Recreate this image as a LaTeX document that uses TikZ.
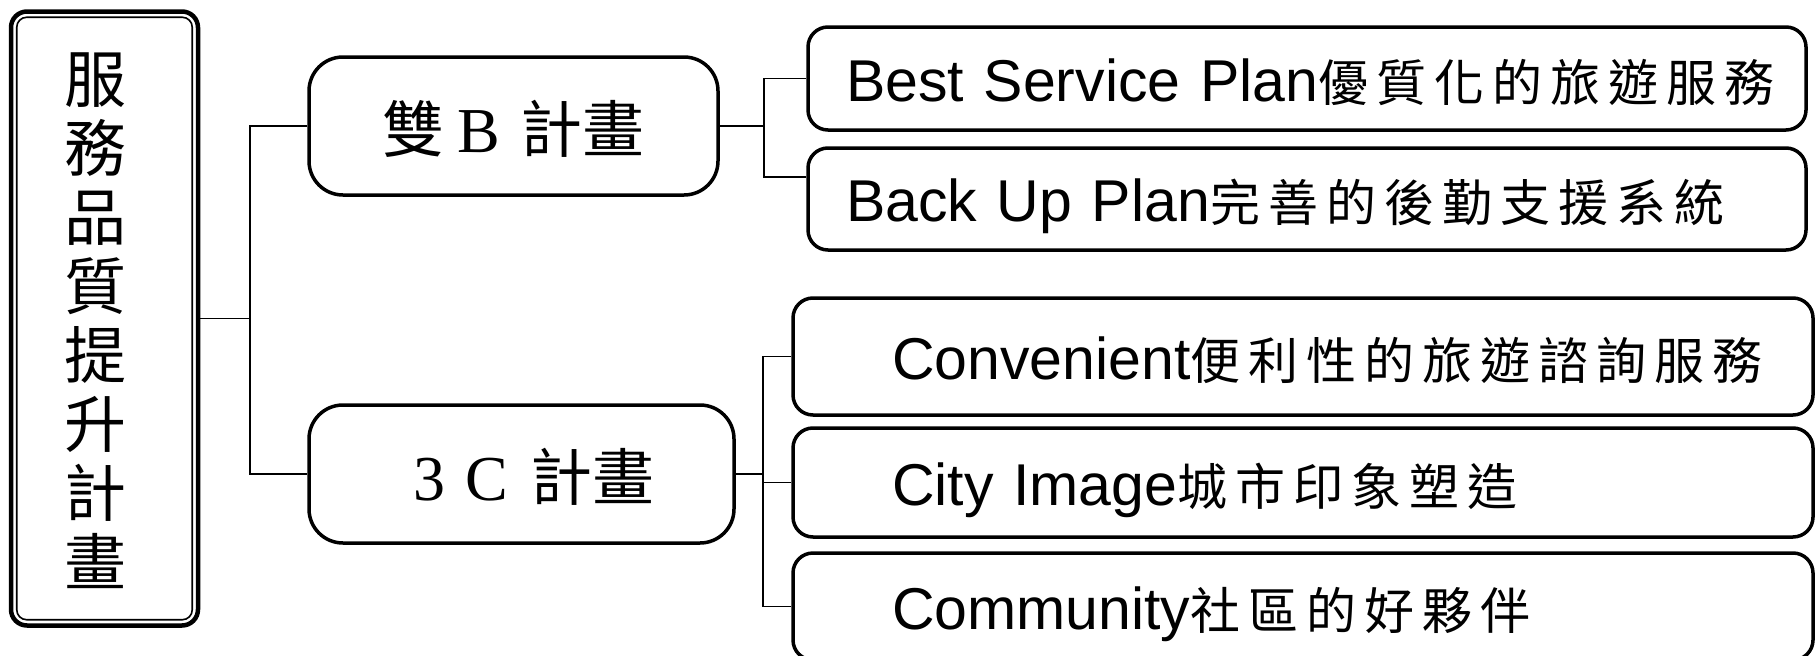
\documentclass[tikz,border=0pt]{standalone}
\usepackage{fontspec}
\setmainfont{Liberation Sans}
\newfontfamily\cjk{Noto Sans CJK TC}
\newfontfamily\cjkl[LetterSpace=16]{Noto Sans CJK TC}
\newfontfamily\romanl{Liberation Serif}
\newcommand{\zh}[1]{{\cjkl\fontsize{50}{60}\selectfont #1}}
\newcommand{\bigzh}[1]{{\cjk\fontsize{62}{70}\selectfont #1}}
\newcommand{\bigrm}[1]{{\romanl\fontsize{64}{70}\selectfont #1}}
\usetikzlibrary{calc}

\begin{document}
\begin{tikzpicture}[x=1pt, y=-1pt,
    outline/.style={draw, line width=3.5pt},
    planbox/.style={outline, rounded corners=34pt, minimum width=#1, minimum height=138pt,
        inner sep=0pt, text height=54pt, text depth=2pt},
    leafbox/.style={outline, rounded corners=20pt, minimum height=#1, inner ysep=0pt,
        align=left, text height=47pt, text depth=2pt, font=\fontsize{59}{70}\selectfont},
    uprow/.style={leafbox=#1, inner xsep=38pt, text width=922pt},
    downrow/.style={leafbox=#1, inner xsep=99pt, text width=822pt},
    wire/.style={line width=1.8pt}]

    \useasboundingbox (0,0) rectangle (1816,656);
    \fill[white] (0,0) rectangle (1816,656);

    % Root
    \node[outline, line width=4.5pt, rounded corners=16pt, minimum width=187pt, minimum height=614pt] (root) at (104.5,318.5) {};
    \draw[line width=1.6pt, rounded corners=10pt] ([shift={(8,8)}]root.north west) rectangle ([shift={(-8,-8)}]root.south east);
    \node[align=center, font=\cjk\fontsize{62}{69}\selectfont] (roottext) at (95,321) {服\\務\\品\\質\\提\\升\\計\\畫};

    % Plans
    \node[planbox=409pt] (planB) at (513.5,126) {\bigzh{雙}\hspace{13pt}\bigrm{B}\hspace{20pt}\bigzh{計畫}};
    \node[planbox=425pt] (planC) at (521.5,474) {\hspace*{25pt}\bigrm{3}\hspace{20pt}\bigrm{C}\hspace{22pt}\bigzh{計畫}};

    % Leaves
    \node[uprow=103pt] (best) at (1307,78.5) {\rlap{Best Service Plan\zh{優質化的旅遊服務}}};
    \node[uprow=102pt] (backup) at (1307,199) {\rlap{Back Up Plan\zh{完善的後勤支援系統}}};
    \node[downrow=117pt] (conv) at (1303,356.5) {\rlap{Convenient\zh{便利性的旅遊諮詢服務}}};
    \node[downrow=109pt] (city) at (1303,482.5) {\rlap{City Image\zh{城市印象塑造}}};
    \node[downrow=107pt] (comm) at (1303,606.5) {\rlap{Community\zh{社區的好夥伴}}};

    % Connectors
    \coordinate (trunk) at (250,318.5);
    \draw[wire] (root.east) -- (trunk);
    \draw[wire] (planB.west) -| (trunk) |- (planC.west);

    \coordinate (jB) at (764,126);
    \draw[wire] (planB.east) -- (jB);
    \draw[wire] (best.west) -| (jB) |- ([yshift=22pt]backup.west);

    \coordinate (jC) at (763,474);
    \draw[wire] (planC.east) -- (jC);
    \draw[wire] (conv.west) -| (jC) |- (comm.west);
    \draw[wire] (jC) |- (city.west);
\end{tikzpicture}
\end{document}
